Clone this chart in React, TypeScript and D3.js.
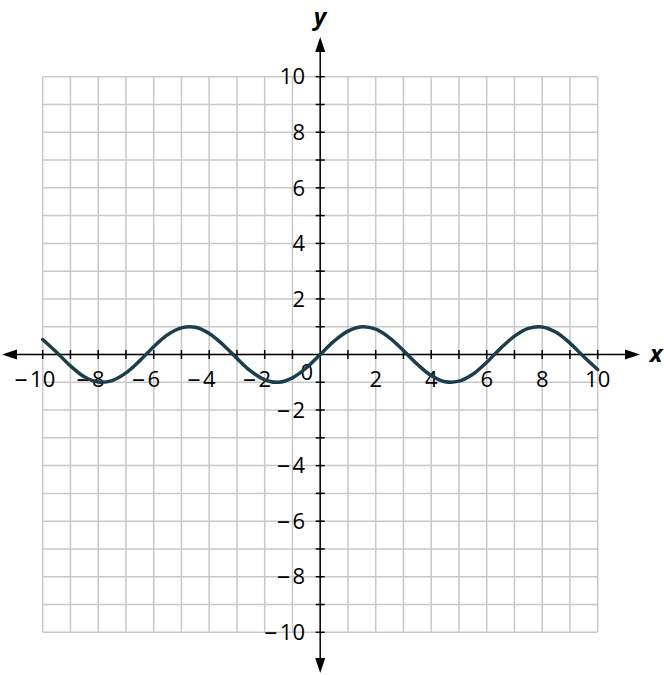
import React from "react";
import * as d3 from "d3";

const xTicks = d3.range(-10, 11, 1);
const yTicks = d3.range(-10, 11, 1);
const xLabels = [-10, -8, -6, -4, -2, 2, 4, 6, 8, 10];
const yLabels = [-10, -8, -6, -4, -2, 2, 4, 6, 8, 10];
const curveX = [
  -10, -9.5, -9, -8.5, -8, -7.5, -7, -6.5, -6, -5.5, -5, -4.5, -4, -3.5, -3, -2.5, -2, -1.5, -1, -0.5,
  0, 0.5, 1, 1.5, 2, 2.5, 3, 3.5, 4, 4.5, 5, 5.5, 6, 6.5, 7, 7.5, 8, 8.5, 9, 9.5, 10,
];
const curveY = [
  0.54, 0.08, -0.41, -0.8, -0.99, -0.94, -0.66, -0.22, 0.28, 0.71, 0.96, 0.98, 0.76, 0.35, -0.14, -0.6,
  -0.91, -1.0, -0.84, -0.48, 0, 0.48, 0.84, 1.0, 0.91, 0.6, 0.14, -0.35, -0.76, -0.98, -0.96, -0.71,
  -0.28, 0.22, 0.66, 0.94, 0.99, 0.8, 0.41, -0.08, -0.54,
];

export default function App() {
  const W = 664;
  const H = 675;
  const x = d3.scaleLinear().domain([-10, 10]).range([42.7, 597.7]);
  const y = d3.scaleLinear().domain([-10, 10]).range([632.3, 76.7]);
  const x0 = x(0);
  const y0 = y(0);
  const pts = curveX.map((v, i) => [v, curveY[i]] as [number, number]);
  const line = d3
    .line<[number, number]>()
    .x((d) => x(d[0]))
    .y((d) => y(d[1]))
    .curve(d3.curveCatmullRom.alpha(0.5));
  const font = "'Open Sans', sans-serif";
  const grid = "#c8c8c8";
  const fs = 22;
  const digitW = 0.572 * fs;
  const label = (v: number) =>
    v < 0 ? (
      <>
        <tspan fontSize={26}>{"\u2013"}</tspan>
        <tspan dx={2.5}>{String(Math.abs(v))}</tspan>
      </>
    ) : (
      String(v)
    );
  return (
    <svg
      width={W}
      height={H}
      style={{ position: "absolute", left: 0, top: 0, display: "block" }}
      fontFamily={font}
    >
      <rect width={W} height={H} fill="#fff" />
      {xTicks.map((t) => (
        <line key={"gx" + t} x1={x(t)} x2={x(t)} y1={y(-10)} y2={y(10)} stroke={grid} strokeWidth={1.5} />
      ))}
      {yTicks.map((t) => (
        <line key={"gy" + t} y1={y(t)} y2={y(t)} x1={x(-10)} x2={x(10)} stroke={grid} strokeWidth={1.5} />
      ))}
      <line x1={14} x2={628} y1={y0} y2={y0} stroke="#000" strokeWidth={1.5} />
      <line x1={x0} x2={x0} y1={49} y2={661} stroke="#000" strokeWidth={1.5} />
      <path d={`M2,${y0} L17,${y0 - 5} L17,${y0 + 5} Z`} fill="#000" />
      <path d={`M640,${y0} L625,${y0 - 5} L625,${y0 + 5} Z`} fill="#000" />
      <path d={`M${x0},37 L${x0 - 5},52 L${x0 + 5},52 Z`} fill="#000" />
      <path d={`M${x0},673 L${x0 - 5},658 L${x0 + 5},658 Z`} fill="#000" />
      {xTicks.filter((t) => t !== 0).map((t) => (
        <line key={"tx" + t} x1={x(t)} x2={x(t)} y1={y0 - 4.5} y2={y0 + 4.5} stroke="#000" strokeWidth={1.5} />
      ))}
      {yTicks.filter((t) => t !== 0).map((t) => (
        <line key={"ty" + t} y1={y(t)} y2={y(t)} x1={x0 - 4.5} x2={x0 + 4.5} stroke="#000" strokeWidth={1.5} />
      ))}
      {xLabels.map((t) => (
        <text
          key={"lx" + t}
          x={x(t) + (String(Math.abs(t)).length * digitW) / 2}
          y={387}
          textAnchor="end"
          fontSize={fs}
          fill="#000"
        >
          {label(t)}
        </text>
      ))}
      {yLabels.map((t) => (
        <text key={"ly" + t} x={305} y={y(t) + 7.7} textAnchor="end" fontSize={fs} fill="#000">
          {label(t)}
        </text>
      ))}
      <text x={313} y={380} textAnchor="end" fontSize={fs} fill="#000">0</text>
      <text x={320} y={25} textAnchor="middle" fontSize={24} fontStyle="italic" fontWeight="bold" fill="#000">y</text>
      <text x={656} y={362} textAnchor="middle" fontSize={24} fontStyle="italic" fontWeight="bold" fill="#000">x</text>
      <path d={line(pts) || ""} fill="none" stroke="#1b3e4d" strokeWidth={3.5} strokeLinecap="round" />
    </svg>
  );
}
